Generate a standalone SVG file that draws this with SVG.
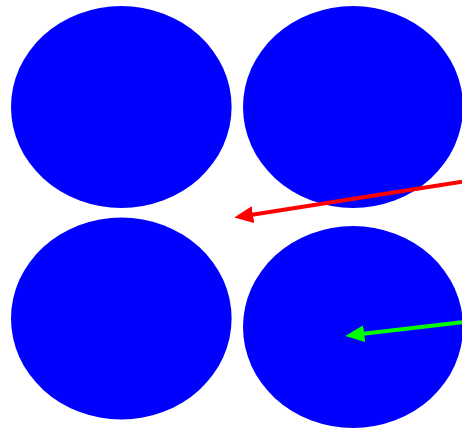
<svg xmlns="http://www.w3.org/2000/svg" width="462" height="429" viewBox="0 0 462 429">
<style>
.node{fill:#0000ff;}
.red{stroke:#ff0000;stroke-width:4;fill:none;}
.green{stroke:#00ff00;stroke-width:4;fill:none;}
</style>
<defs>
<marker id="ahRed" markerUnits="userSpaceOnUse" viewBox="0 0 19 17" refX="1" refY="8.5" markerWidth="19" markerHeight="17" orient="auto"><path d="M0,0 L19,8.5 L0,17 z" fill="#ff0000"/></marker>
<marker id="ahGreen" markerUnits="userSpaceOnUse" viewBox="0 0 19 17" refX="1" refY="8.5" markerWidth="19" markerHeight="17" orient="auto"><path d="M0,0 L19,8.5 L0,17 z" fill="#00ff00"/></marker>
</defs>
<rect width="462" height="429" fill="#ffffff"/>
<g id="node-tl"><ellipse class="node" cx="121.3" cy="107" rx="110.3" ry="101"/></g>
<g id="node-tr"><ellipse class="node" cx="353" cy="107" rx="110" ry="101"/></g>
<g id="node-bl"><ellipse class="node" cx="121.3" cy="318.5" rx="110.3" ry="101"/></g>
<g id="node-br"><ellipse class="node" cx="353" cy="327" rx="110" ry="101"/></g>
<g id="connectors">
<line class="red" x1="462" y1="181.7" x2="252" y2="214.8" marker-end="url(#ahRed)"/>
<line class="green" x1="462" y1="322.3" x2="363.2" y2="333.8" marker-end="url(#ahGreen)"/>
</g>
</svg>
